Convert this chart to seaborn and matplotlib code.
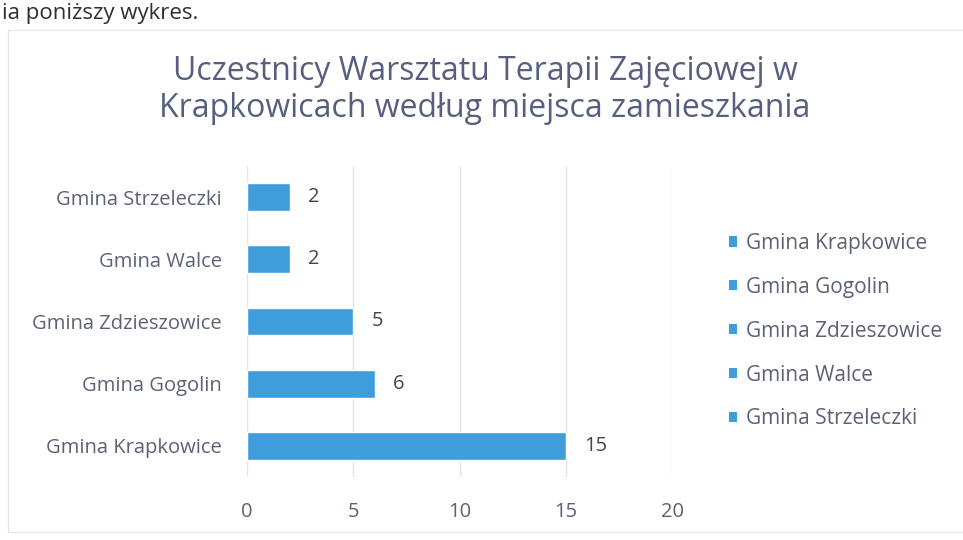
import matplotlib
matplotlib.use("Agg")
import matplotlib.pyplot as plt
from matplotlib.patches import Patch, Rectangle
import pandas as pd
import seaborn as sns

# Data (top to bottom as shown on the chart)
categories = ["Gmina Strzeleczki", "Gmina Walce", "Gmina Zdzieszowice",
              "Gmina Gogolin", "Gmina Krapkowice"]
values = [2, 2, 5, 6, 15]
legend_order = ["Gmina Krapkowice", "Gmina Gogolin", "Gmina Zdzieszowice",
                "Gmina Walce", "Gmina Strzeleczki"]
x_ticks = [0, 5, 10, 15, 20]

title = "Uczestnicy Warsztatu Terapii Zajęciowej w\nKrapkowicach według miejsca zamieszkania"

bar_color = "#3f9ddb"
text_color = "#5b6275"
title_color = "#56607e"

sns.set_theme(style="white")
plt.rcParams["font.family"] = ["Open Sans", "DejaVu Sans"]

df = pd.DataFrame({"gmina": categories, "liczba": values})

fig = plt.figure(figsize=(9.63, 5.4), dpi=100)
ax = fig.add_axes([247 / 963, 1 - 477 / 540, 425 / 963, 311 / 540])

sns.barplot(data=df, y="gmina", x="liczba", order=categories,
            color=bar_color, saturation=1, width=0.45, ax=ax)

ax.set_xlim(0, 20)
ax.set_xticks(x_ticks)
ax.set_xlabel("")
ax.set_ylabel("")
ax.grid(axis="x", color="#e4e4e4", linewidth=1)
ax.set_axisbelow(True)
for s in ax.spines.values():
    s.set_visible(False)
ax.tick_params(axis="x", colors=text_color, labelsize=14.5, pad=18, length=0)
ax.tick_params(axis="y", colors=text_color, labelsize=14.5, pad=18, length=0)

for cont in ax.containers:
    ax.bar_label(cont, padding=13, color="#454545", fontsize=14.5)

# legend: one entry per point, as in the original
handles = [Patch(facecolor=bar_color, edgecolor="none", label=c) for c in legend_order]
fig.legend(handles=handles, loc="upper left", bbox_to_anchor=(710 / 963, 1 - 214 / 540),
           frameon=False, fontsize=15, labelcolor=text_color,
           handlelength=0.4, handleheight=0.4, handletextpad=0.45,
           labelspacing=1.1)

fig.text(485 / 963, 1 - 90 / 540, title, ha="center", va="center",
         fontsize=23, color=title_color, linespacing=1.15)

# fragment of the document line above the chart
fig.text(2 / 963, 1 - 13 / 540, "ia poniższy wykres.", ha="left", va="center",
         fontsize=16, color="#2f2f2f")

# chart-area border
fig.patches.append(Rectangle((8 / 963, 1 - 532 / 540), 1.0, 502 / 540,
                             transform=fig.transFigure, fill=False,
                             edgecolor="#e6e6e6", linewidth=1))

fig.savefig("out.png", dpi=100)
